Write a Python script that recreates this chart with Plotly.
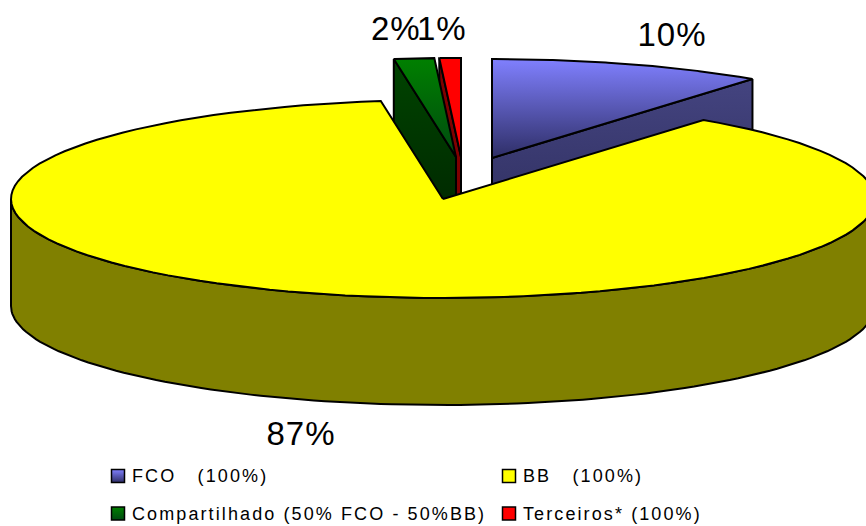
import numpy as np
import plotly.graph_objects as go

categories = ["FCO", "BB", "Compartilhado", "Terceiros"]
shares = [10.3, 87.4, 1.5, 0.8]
legend_labels = [
    "FCO\u00a0\u00a0\u00a0(100%)",
    "BB\u00a0\u00a0\u00a0(100%)",
    "Compartilhado (50% FCO - 50%BB)",
    "Terceiros* (100%)",
]

# pie geometry, in page pixels
CX, CY = 443, 199
RX, RY = 432, 99
DEPTH = 107
EXPLODE = {"FCO": (49, -41), "BB": (0, 0), "Compartilhado": (13, -42), "Terceiros": (18, -42)}
LABEL_POS = {"FCO": (672, 34), "BB": (301, 433), "Compartilhado": (396, 28), "Terceiros": (442, 28)}
LEGEND_POS = [(118, 476, 130), (509, 476, 521), (118, 513.5, 130), (509, 513.5, 521)]

TOP_COLOURS = {
    "FCO": ["#8080ff", "#2e2e66"],
    "BB": ["#ffff00", "#ffff00"],
    "Compartilhado": ["#008000", "#004a10"],
    "Terceiros": ["#ff0000", "#ff0000"],
}
SIDE_COLOURS = {
    "FCO": ["#444480", "#2a2a58"],
    "BB": ["#808000", "#808000"],
    "Compartilhado": ["#004400", "#002000"],
    "Terceiros": ["#800000", "#800000"],
}
FONT = "Liberation Sans, Arial, sans-serif"

# plotly has no letter spacing option and the page keeps its default body margin
PAGE_CSS = """
var s = document.createElement('style');
s.textContent = 'body{margin:0}'
  + '.annotation-text{letter-spacing:2.1px}'
  + '.annotation-text[style*="33px"]{letter-spacing:1px}';
document.head.appendChild(s);
"""

# slices run clockwise from twelve o'clock
sweep = np.array(shares) / sum(shares) * 360
ends = 90 - np.cumsum(sweep)
starts = ends + sweep
angles = {c: (s, e) for c, s, e in zip(categories, starts, ends)}


def rim(cx, cy, t0, t1, n=120):
    t = np.radians(np.linspace(t0, t1, n))
    return cx + RX * np.cos(t), cy - RY * np.sin(t)


def gradient(colours):
    return dict(type="vertical", colorscale=[[0, colours[1]], [1, colours[0]]])


fig = go.Figure()


def polygon(x, y, colours):
    x = list(x) + [x[0]]
    y = list(y) + [y[0]]
    fig.add_trace(go.Scatter(
        x=x, y=y, mode="lines", fill="toself",
        fillgradient=gradient(colours),
        line=dict(color="black", width=2),
        hoverinfo="skip",
    ))


def top_face(name):
    dx, dy = EXPLODE[name]
    cx, cy = CX + dx, CY + dy
    t0, t1 = angles[name]
    x, y = rim(cx, cy, t0, t1)
    polygon(np.r_[cx, x], np.r_[cy, y], TOP_COLOURS[name])


def cut_face(name, t):
    # the flat wall of an exploded slice, hanging below one of its radii
    dx, dy = EXPLODE[name]
    cx, cy = CX + dx, CY + dy
    ex, ey = rim(cx, cy, t, t, 1)
    polygon([ex[0], cx, cx, ex[0]], [ey[0], cy, cy + DEPTH, ey[0] + DEPTH], SIDE_COLOURS[name])


# painted back to front
cut_face("Terceiros", angles["Terceiros"][0])
top_face("Terceiros")
cut_face("Compartilhado", angles["Compartilhado"][0])
top_face("Compartilhado")
cut_face("FCO", angles["FCO"][1])
top_face("FCO")

wx, wy = rim(CX, CY, 180, 360)
polygon(np.r_[wx, wx[::-1]], np.r_[wy, wy[::-1] + DEPTH], SIDE_COLOURS["BB"])
top_face("BB")

annotations = []
for name, share in zip(categories, shares):
    lx, ly = LABEL_POS[name]
    annotations.append(dict(
        x=lx, y=ly, text=f"{share:.0f}%", showarrow=False,
        font=dict(family=FONT, size=33, color="black"),
    ))

for name, label, (mx, my, tx) in zip(categories, legend_labels, LEGEND_POS):
    c = TOP_COLOURS[name]
    fig.add_trace(go.Scatter(
        x=[mx], y=[my], mode="markers", hoverinfo="skip",
        marker=dict(
            symbol="square", size=13, color=c[0],
            gradient=dict(type="vertical", color=c[1]),
            line=dict(color="black", width=1.5),
        ),
    ))
    annotations.append(dict(
        x=tx, y=my, text=label, showarrow=False, xanchor="left", align="left",
        font=dict(family=FONT, size=18, color="black"),
    ))

fig.update_layout(
    width=866, height=526,
    margin=dict(l=0, r=0, t=0, b=0),
    paper_bgcolor="white", plot_bgcolor="white",
    showlegend=False,
    hovermode=False,
    annotations=annotations,
    xaxis=dict(range=[0, 866], visible=False, fixedrange=True),
    yaxis=dict(range=[526, 0], visible=False, fixedrange=True),
)

fig.write_html("out.html", post_script=PAGE_CSS, config={"displayModeBar": False})
